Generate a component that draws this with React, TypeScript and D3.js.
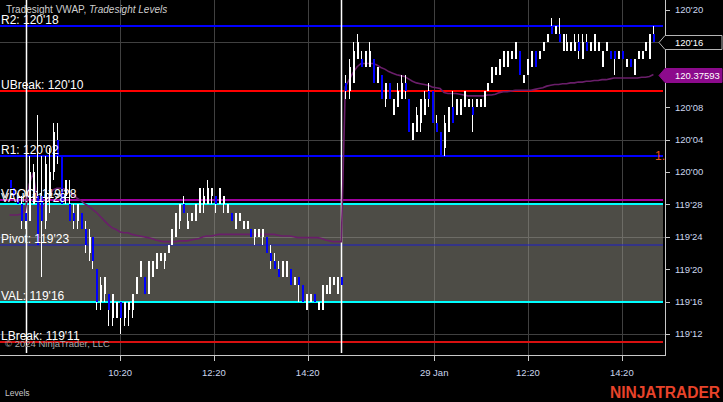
import * as d3 from "d3";
import { useEffect, useRef } from "react";

// all prices are in 32nds above 119'00 (5 min bars, two sessions)
const opens = [
    31, 30, 29, 28, 27, 26, 28, 29, 29, 26, 29, 32, 36, 34, 29, 28, 27, 26, 27, 25,
    22, 24, 20, 16, 17, 17, 14, 14, 16, 14, 15, 15, 17, 19, 19, 17, 19, 20, 21, 21,
    22, 23, 24, 26, 28, 25, 26, 26, 27, 28, 28, 29, 29, 28, 28, 27, 27, 25, 26, 25,
    25, 25, 24, 24, 24, 24, 22, 21, 20, 19, 19, 20, 18, 19, 18, 15, 16, 17, 15, 15,
    17, 17, 18, 17, 19,
    43, 42, 43, 46, 46, 45, 45, 46, 43, 44, 41, 43, 39, 40, 41, 43, 41, 36, 37, 38,
    39, 42, 42, 38, 37, 35, 37, 40, 39, 39, 40, 40, 40, 40, 40, 40, 42, 43, 44, 44,
    45, 45, 46, 46, 47, 43, 44, 45, 47, 46, 47, 48, 50, 49, 49, 47, 47, 47, 47, 48,
    46, 48, 47, 47, 47, 45, 47, 47, 47, 46, 47, 45, 46, 44, 46, 46, 47, 46, 49,
];
const highs = [
    31, 30, 29, 29, 27, 34, 33, 39, 34, 34, 35, 38, 38, 34, 31, 31, 28, 28, 27, 26,
    25, 24, 20, 19, 19, 17, 17, 16, 16, 16, 16, 17, 19, 21, 19, 21, 21, 22, 22, 22,
    23, 25, 27, 28, 29, 27, 27, 28, 30, 30, 31, 30, 29, 30, 29, 28, 27, 27, 27, 26,
    26, 25, 25, 25, 25, 24, 23, 22, 21, 21, 21, 20, 19, 19, 18, 17, 17, 17, 16, 18,
    18, 19, 19, 19, 19,
    44, 46, 48, 49, 47, 47, 48, 46, 45, 44, 43, 43, 41, 43, 44, 44, 41, 38, 40, 41,
    42, 43, 42, 39, 37, 39, 40, 42, 41, 41, 42, 41, 41, 41, 41, 42, 43, 45, 45, 46,
    47, 47, 47, 48, 47, 44, 46, 47, 47, 47, 48, 49, 51, 50, 51, 49, 49, 48, 49, 49,
    49, 49, 48, 49, 48, 47, 48, 47, 47, 47, 47, 46, 46, 46, 47, 47, 48, 49, 50,
];
const lows = [
    30, 29, 28, 25, 25, 26, 28, 23, 19, 25, 27, 31, 33, 28, 28, 26, 25, 25, 25, 22,
    21, 20, 15, 15, 16, 13, 13, 14, 12, 13, 13, 14, 17, 19, 17, 17, 19, 20, 21, 20,
    22, 23, 24, 25, 27, 25, 26, 26, 27, 27, 28, 28, 27, 28, 27, 27, 26, 25, 26, 25,
    25, 24, 23, 24, 23, 22, 20, 20, 19, 19, 19, 18, 18, 16, 16, 15, 16, 16, 15, 15,
    17, 17, 18, 17, 18,
    41, 41, 43, 46, 45, 45, 45, 43, 43, 41, 40, 41, 39, 40, 41, 41, 37, 36, 37, 37,
    39, 40, 38, 37, 34, 34, 37, 38, 39, 39, 40, 40, 37, 40, 40, 40, 42, 43, 44, 44,
    45, 45, 46, 46, 44, 43, 44, 45, 45, 46, 47, 48, 49, 49, 48, 47, 47, 47, 47, 46,
    46, 47, 47, 47, 47, 45, 47, 46, 44, 46, 46, 45, 45, 44, 46, 46, 47, 46, 48,
];
const closes = [
    30, 29, 28, 26, 26, 32, 32, 23, 26, 33, 32, 37, 34, 28, 31, 26, 26, 28, 25, 23,
    24, 21, 16, 18, 19, 15, 17, 16, 14, 16, 16, 17, 19, 21, 17, 21, 21, 22, 22, 22,
    23, 25, 27, 28, 27, 26, 27, 28, 30, 29, 30, 30, 28, 30, 29, 28, 26, 27, 27, 26,
    26, 24, 25, 25, 25, 22, 21, 20, 19, 21, 21, 18, 19, 18, 16, 17, 17, 16, 16, 18,
    18, 19, 19, 19, 18,
    42, 45, 47, 48, 45, 47, 47, 43, 45, 41, 43, 41, 41, 42, 43, 42, 37, 38, 39, 41,
    41, 41, 38, 37, 34, 38, 40, 38, 41, 41, 42, 41, 39, 41, 41, 42, 43, 45, 45, 46,
    47, 47, 47, 48, 44, 44, 46, 47, 45, 47, 48, 49, 49, 50, 48, 49, 48, 48, 48, 47,
    48, 47, 48, 49, 48, 47, 48, 46, 46, 47, 46, 46, 45, 46, 47, 47, 48, 49, 48,
];
const vwap = [
    26.7, 26.7, 26.7, 26.8, 27.2, 30.5, 31.9, 28.6, 27.5, 28.0, 29.0, 29.8, 30.0, 30.0, 29.9, 29.6, 29.2, 28.8, 28.5, 28.1,
    27.8, 27.4, 27.0, 26.5, 26.0, 25.5, 25.1, 24.9, 24.6, 24.5, 24.5, 24.3, 24.2, 24.1, 24.0, 23.9, 23.8, 23.6, 23.5, 23.4,
    23.4, 23.4, 23.4, 23.5, 23.5, 23.5, 23.6, 23.7, 23.8, 24.0, 24.1, 24.1, 24.2, 24.3, 24.3, 24.3, 24.3, 24.3, 24.3, 24.3,
    24.3, 24.3, 24.3, 24.3, 24.3, 24.3, 24.3, 24.3, 24.2, 24.1, 24.1, 24.1, 24.0, 23.9, 23.9, 23.9, 23.9, 23.9, 23.9, 23.8,
    23.6, 23.5, 23.4, 23.4, 23.4,
    42.5, 43.4, 44.3, 45.0, 45.4, 45.4, 45.4, 45.4, 45.2, 44.9, 44.7, 44.4, 44.2, 44.0, 43.9, 43.8, 43.5, 43.2, 43.0, 42.9,
    42.8, 42.7, 42.5, 42.4, 42.3, 41.8, 41.7, 41.7, 41.7, 41.6, 41.5, 41.4, 41.4, 41.4, 41.4, 41.4, 41.5, 41.5, 41.6, 41.8,
    41.9, 41.9, 42.0, 42.1, 42.1, 42.1, 42.1, 42.1, 42.2, 42.3, 42.4, 42.6, 42.7, 42.8, 42.8, 42.9, 42.9, 43.0, 43.0, 43.1,
    43.1, 43.2, 43.2, 43.3, 43.3, 43.4, 43.4, 43.5, 43.6, 43.6, 43.6, 43.6, 43.6, 43.6, 43.6, 43.7, 43.7, 43.8, 44.0298,
];

const levelNames = ["R2", "UBreak", "R1", "VAH", "Pivot", "VAL", "LBreak"];
const levelTicks = [50, 42, 34, 28, 23, 16, 11];
const levelColors = ["#0000ff", "#ff0000", "#0000ff", "#00ffff", "#1c1cc8", "#00ffff", "#d81010"];
const pocName = "VPOC";
const pocTick = 28.5;

// 120'12 sits under the VWAP marker, so it is not labelled
const priceTicks = [12, 16, 20, 24, 28, 32, 36, 40, 48, 52];
const gridTicks = [12, 24, 36, 48];
const timeTickBars = [28, 51.75, 75.5, 107.5, 131.25, 155];
const timeTickLabels = ["10:20", "12:20", "14:20", "29 Jan", "12:20", "14:20"];
const markerBars = [4.2, 83.85];

const fmt = (t: number) => `${119 + Math.floor(t / 32)}'${String(Math.floor(t) % 32).padStart(2, "0")}`;

export default function App() {
    const ref = useRef<SVGSVGElement | null>(null);

    useEffect(() => {
        if (!ref.current) return;
        const width = 723;
        const height = 402;
        const plotRight = 665;
        const plotBottom = 356;
        const font = "Arial, 'Liberation Sans', sans-serif";

        const svg = d3.select(ref.current);
        svg.selectAll("*").remove();

        const x = d3.scaleLinear().domain([0, opens.length - 1]).range([9.5, 653.4]);
        const y = d3.scaleLinear().domain([12, 52]).range([334, 10]);

        svg.append("rect").attr("width", width).attr("height", height).attr("fill", "#000");

        // grid
        svg.append("g")
            .selectAll("line")
            .data(gridTicks)
            .join("line")
            .attr("x1", 0)
            .attr("x2", plotRight)
            .attr("y1", (d) => Math.round(y(d)) + 0.5)
            .attr("y2", (d) => Math.round(y(d)) + 0.5)
            .attr("stroke", "#404040");
        svg.append("g")
            .selectAll("line")
            .data(timeTickBars)
            .join("line")
            .attr("x1", (d) => Math.round(x(d)) + 0.5)
            .attr("x2", (d) => Math.round(x(d)) + 0.5)
            .attr("y1", 0)
            .attr("y2", plotBottom)
            .attr("stroke", "#404040");

        // value area
        svg.append("rect")
            .attr("x", 0)
            .attr("width", 663)
            .attr("y", Math.round(y(levelTicks[3])))
            .attr("height", Math.round(y(levelTicks[5])) - Math.round(y(levelTicks[3])))
            .attr("fill", "rgba(154,152,140,0.5)");

        // level lines
        svg.append("g")
            .selectAll("line")
            .data(levelTicks)
            .join("line")
            .attr("x1", 0)
            .attr("x2", 663)
            .attr("y1", (d) => Math.round(y(d)))
            .attr("y2", (d) => Math.round(y(d)))
            .attr("stroke", (_, i) => levelColors[i])
            .attr("stroke-width", (_, i) => (i === 4 ? 1 : 2));
        svg.append("line")
            .attr("x1", 0)
            .attr("x2", 663)
            .attr("y1", Math.round(y(pocTick)))
            .attr("y2", Math.round(y(pocTick)))
            .attr("stroke", "#a000a0")
            .attr("stroke-width", 2);

        // session markers
        svg.append("g")
            .selectAll("line")
            .data(markerBars)
            .join("line")
            .attr("x1", (d) => Math.round(x(d)) + 0.5)
            .attr("x2", (d) => Math.round(x(d)) + 0.5)
            .attr("y1", 0)
            .attr("y2", plotBottom - 3)
            .attr("stroke", "#fff")
            .attr("stroke-width", 1.5);

        // VWAP
        const line = d3
            .line<number>()
            .x((_, i) => x(i))
            .y((d) => y(d));
        svg.append("path")
            .attr("d", line(vwap))
            .attr("fill", "none")
            .attr("stroke", "#6a1e6a")
            .attr("stroke-width", 1.6);

        // candles
        const bars = d3.range(opens.length);
        const g = svg.append("g").attr("shape-rendering", "crispEdges");
        g.selectAll("rect.wick")
            .data(bars)
            .join("rect")
            .attr("class", "wick")
            .attr("x", (i) => Math.round(x(i)))
            .attr("width", 1)
            .attr("y", (i) => y(highs[i]))
            .attr("height", (i) => Math.max(1, y(lows[i]) - y(highs[i])))
            .attr("fill", "#fff");
        g.selectAll("rect.body")
            .data(bars)
            .join("rect")
            .attr("class", "body")
            .attr("x", (i) => Math.round(x(i)))
            .attr("width", 2)
            .attr("y", (i) => y(Math.max(opens[i], closes[i])))
            .attr("height", (i) => Math.max(1, Math.abs(y(opens[i]) - y(closes[i]))))
            .attr("fill", (i) => (closes[i] >= opens[i] ? "#fff" : "#0000ff"));

        // axes
        svg.append("line")
            .attr("x1", plotRight + 0.5)
            .attr("x2", plotRight + 0.5)
            .attr("y1", 0)
            .attr("y2", plotBottom)
            .attr("stroke", "#c8c8c8");
        svg.append("line")
            .attr("x1", 0)
            .attr("x2", plotRight + 1)
            .attr("y1", plotBottom - 0.5)
            .attr("y2", plotBottom - 0.5)
            .attr("stroke", "#c8c8c8");

        const yAxis = svg.append("g");
        yAxis.selectAll("line")
            .data(priceTicks)
            .join("line")
            .attr("x1", plotRight)
            .attr("x2", plotRight + 5)
            .attr("y1", (d) => Math.round(y(d)) + 0.5)
            .attr("y2", (d) => Math.round(y(d)) + 0.5)
            .attr("stroke", "#c8c8c8");
        yAxis.selectAll("text")
            .data(priceTicks)
            .join("text")
            .attr("x", plotRight + 10)
            .attr("y", (d) => y(d) + 3.4)
            .attr("fill", "#cbd6ee")
            .attr("font-family", font)
            .attr("font-size", 9.5)
            .text((d) => fmt(d));

        const xAxis = svg.append("g");
        xAxis.selectAll("line")
            .data(timeTickBars)
            .join("line")
            .attr("x1", (d) => Math.round(x(d)) + 0.5)
            .attr("x2", (d) => Math.round(x(d)) + 0.5)
            .attr("y1", plotBottom)
            .attr("y2", plotBottom + 5)
            .attr("stroke", "#c8c8c8");
        xAxis.selectAll("text")
            .data(timeTickBars)
            .join("text")
            .attr("x", (d) => x(d))
            .attr("y", 376)
            .attr("text-anchor", "middle")
            .attr("fill", "#cbd6ee")
            .attr("font-family", font)
            .attr("font-size", 9.5)
            .text((_, i) => timeTickLabels[i]);

        // price markers
        const lastClose = closes[closes.length - 1];
        const lastVwap = vwap[vwap.length - 1];
        const marker = (t: number, fill: string, stroke: string, label: string) => {
            const cy = Math.round(y(t)) + 0.5;
            svg.append("path")
                .attr("d", `M659,${cy} L665,${cy - 7} L722,${cy - 7} L722,${cy + 7} L665,${cy + 7} Z`)
                .attr("fill", fill)
                .attr("stroke", stroke);
            svg.append("text")
                .attr("x", 675)
                .attr("y", cy + 3.4)
                .attr("fill", "#fff")
                .attr("font-family", font)
                .attr("font-size", 9.5)
                .text(label);
        };
        marker(lastClose, "#000", "#b4b4b4", fmt(lastClose));
        marker(lastVwap, "#8c0a8c", "#8c0a8c", (119 + lastVwap / 32).toFixed(5));

        // level labels
        svg.append("g")
            .selectAll("text")
            .data(levelTicks)
            .join("text")
            .attr("x", 1)
            .attr("y", (d) => Math.round(y(d)) - 2.5)
            .attr("fill", "#fff")
            .attr("font-family", font)
            .attr("font-size", 12)
            .text((d, i) => `${levelNames[i]}: ${fmt(d)}`);
        svg.append("text")
            .attr("x", 1)
            .attr("y", Math.round(y(pocTick)) - 2)
            .attr("fill", "#fff")
            .attr("font-family", font)
            .attr("font-size", 12)
            .text(`${pocName}: ${fmt(pocTick)}`);
        svg.append("text")
            .attr("x", 655)
            .attr("y", Math.round(y(levelTicks[2])) + 4)
            .attr("fill", "#e8501a")
            .attr("font-family", font)
            .attr("font-size", 12)
            .text("1.");

        // titles and branding
        const title = svg.append("text")
            .attr("x", 6)
            .attr("y", 12.5)
            .attr("fill", "#cfcfcf")
            .attr("font-family", font)
            .attr("font-size", 10);
        title.append("tspan").text("Tradesight VWAP, ");
        title.append("tspan").attr("font-style", "italic").text("Tradesight Levels");

        svg.append("text")
            .attr("x", 5)
            .attr("y", 347)
            .attr("fill", "#a8a8a8")
            .attr("font-family", font)
            .attr("font-size", 9.5)
            .text("© 2024 NinjaTrader, LLC");
        svg.append("text")
            .attr("x", 5)
            .attr("y", 396)
            .attr("fill", "#c8c8c8")
            .attr("font-family", font)
            .attr("font-size", 8.5)
            .text("Levels");
        svg.append("text")
            .attr("x", 610)
            .attr("y", 398)
            .attr("fill", "#e8432a")
            .attr("font-family", font)
            .attr("font-weight", "bold")
            .attr("font-size", 16)
            .attr("textLength", 110)
            .attr("lengthAdjust", "spacingAndGlyphs")
            .text("NINJATRADER");
    }, []);

    return (
        <svg
            ref={ref}
            width={723}
            height={402}
            style={{ position: "absolute", left: 0, top: 0, display: "block" }}
        ></svg>
    );
}
